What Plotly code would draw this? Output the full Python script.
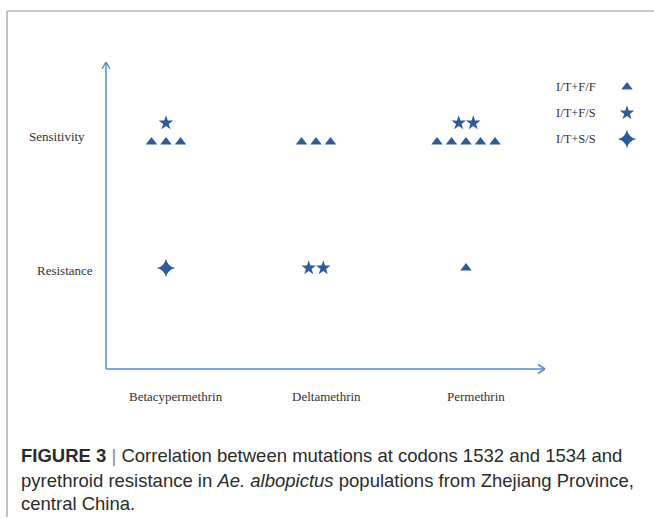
import plotly.graph_objects as go

# ---------------- data ----------------
categories = ["Betacypermethrin", "Deltamethrin", "Permethrin"]
phenotypes = ["Resistance", "Sensitivity"]
genotypes = ["I/T+F/F", "I/T+F/S", "I/T+S/S"]
# counts per phenotype, per category
ff_sensitivity = [3, 3, 5]
ff_resistance = [0, 0, 1]
fs_sensitivity = [1, 0, 2]
fs_resistance = [0, 2, 0]
ss_sensitivity = [0, 0, 0]
ss_resistance = [1, 0, 0]

counts = {
    "I/T+F/F": {"Sensitivity": ff_sensitivity, "Resistance": ff_resistance},
    "I/T+F/S": {"Sensitivity": fs_sensitivity, "Resistance": fs_resistance},
    "I/T+S/S": {"Sensitivity": ss_sensitivity, "Resistance": ss_resistance},
}

caption_lines = [
    "<b>FIGURE 3</b> <span style='color:#888'>|</span> Correlation between mutations at codons 1532 and 1534 and",
    "pyrethroid resistance in <i>Ae. albopictus</i> populations from Zhejiang Province,",
    "central China.",
]

# ---------------- style / layout ----------------
W, H = 654, 519
MARK = "#2f5c96"
AXIS = "#5b8bc9"
TXT = "#333333"
symbols = {"I/T+F/F": "triangle-up", "I/T+F/S": "star", "I/T+S/S": "star-square"}
angles = {"I/T+F/F": 0, "I/T+F/S": 0, "I/T+S/S": 45}
sizes = {"I/T+F/F": 10, "I/T+F/S": 11, "I/T+S/S": 12}

# data -> pixel mapping
X_PX0, X_STEP = 166, 150.0   # category 0 centre px, px per category
Y_PX0, Y_STEP = 268, 126.0   # Resistance row px, px per row
x0 = -X_PX0 / X_STEP
x1 = x0 + W / X_STEP
y0 = -(H - Y_PX0) / Y_STEP
y1 = y0 + H / Y_STEP

dx = 14.5 / X_STEP
dy_stack = 19 / Y_STEP

fig = go.Figure()

# compute positions from counts
pts = {g: ([], []) for g in genotypes}
for ci, cat in enumerate(categories):
    for ri, ph in enumerate(phenotypes):
        level = 0
        for g in genotypes:
            n = counts[g][ph][ci]
            if n == 0:
                continue
            for k in range(n):
                pts[g][0].append(ci + (k - (n - 1) / 2) * dx)
                pts[g][1].append(ri + level * dy_stack)
            level += 1

for g in genotypes:
    fig.add_trace(go.Scatter(
        x=pts[g][0], y=pts[g][1], mode="markers", name=g,
        marker=dict(symbol=symbols[g], size=sizes[g], color=MARK, angle=angles[g],
                    line=dict(width=0)),
        showlegend=False, hoverinfo="skip"))

def px(xp):
    return xp / W

def py(yp):
    return 1 - yp / H

shapes = []
# figure frame
shapes.append(dict(type="line", xref="paper", yref="paper", x0=px(7), x1=px(654),
                   y0=py(11), y1=py(11), line=dict(color="#9a9a9a", width=1.2)))
shapes.append(dict(type="line", xref="paper", yref="paper", x0=px(7), x1=px(7),
                   y0=py(11), y1=py(517), line=dict(color="#9a9a9a", width=1.2)))
# axes with open arrow heads
ax_line = dict(color=AXIS, width=1.5)
ox, oy = 106, 369
ytop, xright = 62, 545
for (a, b, c, d) in [
    (ox, oy, ox, ytop), (ox - 4, ytop + 7, ox, ytop), (ox + 4, ytop + 7, ox, ytop),
    (ox, oy, xright, oy), (xright - 7, oy - 4.5, xright, oy), (xright - 7, oy + 4.5, xright, oy),
]:
    shapes.append(dict(type="line", xref="paper", yref="paper",
                       x0=px(a), y0=py(b), x1=px(c), y1=py(d), line=ax_line))

annotations = []
serif = "Liberation Serif, Times New Roman, serif"
# category labels
for ci, cat in enumerate(categories):
    annotations.append(dict(x=ci, y=py(396), xref="x", yref="paper", xshift=10,
                            text=cat, showarrow=False, xanchor="center", yanchor="middle",
                            font=dict(family=serif, size=13, color=TXT)))
# phenotype labels
ylab_right = {"Resistance": 95, "Sensitivity": 87}
ylab_y = {"Resistance": 270, "Sensitivity": 137}
for ph in phenotypes:
    annotations.append(dict(x=px(ylab_right[ph]), y=py(ylab_y[ph]), xref="paper", yref="paper",
                            text=ph, showarrow=False, xanchor="right", yanchor="middle",
                            font=dict(family=serif, size=13, color=TXT)))
# custom legend (text left, symbol right)
leg_y = [87, 113, 139]
for g, yy in zip(genotypes, leg_y):
    annotations.append(dict(x=px(554), y=py(yy), xref="paper", yref="paper",
                            text=g, showarrow=False, xanchor="left", yanchor="middle",
                            font=dict(family=serif, size=12.5, color=TXT)))
    fig.add_trace(go.Scatter(
        x=[x0 + 627 / W * (x1 - x0)], y=[y1 - yy / H * (y1 - y0)], mode="markers",
        marker=dict(symbol=symbols[g], size=sizes[g], color=MARK, angle=angles[g],
                    line=dict(width=0)),
        showlegend=False, hoverinfo="skip"))
# caption
cap_y = [455, 480, 503]
for line, yy in zip(caption_lines, cap_y):
    annotations.append(dict(x=px(19), y=py(yy), xref="paper", yref="paper",
                            text=line, showarrow=False, xanchor="left", yanchor="middle",
                            font=dict(family="Liberation Sans, Arial, sans-serif", size=18.5, color="#2b2b2b")))

fig.update_layout(
    width=W, height=H, margin=dict(l=0, r=0, t=0, b=0),
    paper_bgcolor="white", plot_bgcolor="white",
    xaxis=dict(range=[x0, x1], visible=False, fixedrange=True),
    yaxis=dict(range=[y0, y1], visible=False, fixedrange=True),
    shapes=shapes, annotations=annotations, showlegend=False,
)

fig.write_html("out.html", config={"displayModeBar": False, "staticPlot": True})
# remove default body margin so the figure sits at the window origin
with open("out.html", encoding="utf-8") as f:
    html = f.read()
html = html.replace("<head>", "<head><style>html,body{margin:0;padding:0;overflow:hidden}</style>", 1)
with open("out.html", "w", encoding="utf-8") as f:
    f.write(html)
